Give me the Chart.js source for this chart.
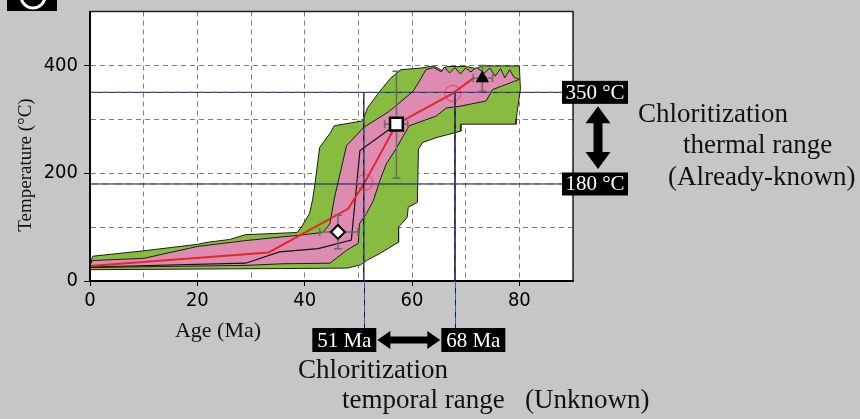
<!DOCTYPE html>
<html>
<head>
<meta charset="utf-8">
<script src="https://cdn.jsdelivr.net/npm/chart.js@4.4.1/dist/chart.umd.min.js"></script>
<style>
  html, body { margin: 0; padding: 0; background: #c6c6c6; }
  #wrap { width: 860px; height: 419px; position: relative; }
</style>
</head>
<body>
<div id="wrap"><canvas id="thermalChart" width="860" height="419"></canvas></div>
<script>
// Age (Ma) / Temperature (°C)
const X_TICKS = [0, 20, 40, 60, 80];
const Y_TICKS = [0, 200, 400];

// acceptable-fit envelope (green), traced round its outline
const ACC_AGE  = [0, 0, 0.5, 10, 15, 20, 22, 26, 29, 34, 38.6, 39.4, 40.9, 41.5, 42, 42.8, 44.8, 45.5, 50.8, 51.7, 54, 56, 57.9, 61.6, 64, 65.5, 66.5, 70, 72, 73, 80,
                  80.2, 79.4, 79.4, 69.1, 69.1, 64.5, 62, 61.2, 61, 59.3, 59.1, 57.5, 57.5, 54, 51.7, 50.4, 48, 35, 0];
const ACC_TEMP = [21, 30, 46, 56, 62, 68, 72, 77, 86, 88, 90, 100, 125, 152, 186, 248, 275, 288, 297, 321, 352, 376, 392, 395, 399, 391, 398, 398, 394, 399, 399,
                  356, 300, 291, 291, 278, 266, 257, 245, 146, 137, 118, 100, 72, 51, 39, 30, 24, 23, 21];

// good-fit envelope (pink)
const GOOD_AGE  = [0, 0, 0.5, 10, 20, 29, 39, 43.4, 44.7, 45.5, 47.8, 51, 55.8, 60.2, 61.4, 62.6, 64, 65.5, 66, 67, 68, 69, 70, 71, 72, 73.5, 74.5, 75.5, 76.5, 77.3, 78.2, 79, 80,
                   75, 73.8, 68.8, 66.4, 64.5, 59.5, 58.3, 57, 55.2, 54, 52.8, 51.5, 50.2, 50, 47.8, 44.7, 36, 29, 0];
const GOOD_TEMP = [25, 30, 38, 42, 64, 75, 85, 90, 106, 152, 251, 285, 315, 352, 371, 392, 396, 388, 397, 386, 396, 384, 395, 388, 396, 386, 395, 380, 394, 377, 392, 378, 374,
                   355, 334, 324, 321, 306, 288, 268, 245, 217, 186, 149, 125, 106, 70, 57, 33, 32, 29, 25];

// best-fit path (red) and mean path (black)
const BEST_AGE  = [0, 33.3, 48.1, 51.2, 57.1, 67.6, 71.4];
const BEST_TEMP = [28, 53, 134, 183, 291, 348, 376];
const MEAN_AGE  = [0, 29, 35.3, 42.5, 48.7, 50.3, 57.1];
const MEAN_TEMP = [26, 33, 54, 60, 76, 242, 291];

// constraints: centre and error ranges
const CON_AGE      = [46.2, 57.1, 73.1];
const CON_TEMP     = [91, 291, 376];
const CON_AGE_MIN  = [42.8, 54.9, 71.4];
const CON_AGE_MAX  = [49.9, 59.2, 75.0];
const CON_TEMP_MIN = [60, 191, 352];
const CON_TEMP_MAX = [122, 389, 400];

// chloritization range
const CHL_TEMP = [350, 180];
const CHL_TEMP_LABELS = ['350 °C', '180 °C'];
const CHL_AGE = [51, 68];
const CHL_AGE_LABELS = ['51 Ma', '68 Ma'];
// where the best-fit path crosses the range (red circles)
const CROSS_AGE  = [51.2, 67.6];
const CROSS_TEMP = [183, 348];

const SERIF = '"Liberation Serif", "Times New Roman", serif';
const NARROW = '"Liberation Sans Narrow", "DejaVu Sans Condensed", "Liberation Sans", sans-serif';
const MARKER_STYLES = ['rectRot', 'rect', 'triangle'];

const zip = (xs, ys) => xs.map((x, i) => ({ x: x, y: ys[i] }));

let datasets = [];

datasets.push({
    data: zip(ACC_AGE, ACC_TEMP), showLine: true, fill: 'shape',
    backgroundColor: '#88bc41', borderColor: '#1c1c1c', borderWidth: 1,
    pointRadius: 0, order: 20
});
datasets.push({
    data: zip(GOOD_AGE, GOOD_TEMP), showLine: true, fill: 'shape',
    backgroundColor: '#dd8bb1', borderColor: '#1c1c1c', borderWidth: 1,
    pointRadius: 0, order: 19
});
datasets.push({
    data: zip(MEAN_AGE, MEAN_TEMP), showLine: true,
    borderColor: '#111', borderWidth: 1.2, pointRadius: 0, order: 18
});
datasets.push({
    data: zip(BEST_AGE, BEST_TEMP), showLine: true,
    borderColor: '#e5262a', borderWidth: 2, pointRadius: 0, order: 17
});

// reference lines: black line with a blue dash on top
function refLine(points) {
    datasets.push({ data: points, showLine: true, borderColor: '#1c1c1c', borderWidth: 1, pointRadius: 0, order: 16 });
    datasets.push({ data: points, showLine: true, borderColor: '#3a5cc0', borderWidth: 1, borderDash: [7, 5], pointRadius: 0, order: 15 });
}
CHL_TEMP.forEach(t => refLine([{ x: 0, y: t }, { x: 90, y: t }]));
CHL_AGE.forEach(a => refLine([{ x: a, y: CHL_TEMP[0] }, { x: a, y: 0 }]));

datasets.push({
    data: zip(CROSS_AGE, CROSS_TEMP), showLine: false,
    pointStyle: 'circle', pointRadius: 8, backgroundColor: 'rgba(0,0,0,0)',
    borderColor: 'rgba(230,50,50,0.85)', borderWidth: 1, order: 14
});

// error bars, the caps are the end points
CON_AGE.forEach((a, i) => {
    datasets.push({
        data: [{ x: a, y: CON_TEMP_MIN[i] }, { x: a, y: CON_TEMP_MAX[i] }], showLine: true,
        borderColor: '#6a6a6a', borderWidth: 1.5, pointStyle: 'line', pointRadius: 4,
        pointBorderColor: '#6a6a6a', pointBorderWidth: 1.5, order: 5
    });
    datasets.push({
        data: [{ x: CON_AGE_MIN[i], y: CON_TEMP[i] }, { x: CON_AGE_MAX[i], y: CON_TEMP[i] }], showLine: true,
        borderColor: '#6a6a6a', borderWidth: 1.5, pointStyle: 'line', pointRadius: 4, pointRotation: 90,
        pointBorderColor: '#6a6a6a', pointBorderWidth: 1.5, order: 5
    });
});

datasets.push({
    data: zip(CON_AGE, CON_TEMP), showLine: false,
    pointStyle: MARKER_STYLES,
    pointRadius: [7, 9, 7],
    pointBackgroundColor: ['#fff', '#fff', '#000'],
    pointBorderColor: '#000',
    pointBorderWidth: [2, 2.5, 1],
    order: 1
});

function arrowHead(ctx, x, y, dx, dy, len, half) {
    // tip at (x,y), pointing along (dx,dy)
    ctx.beginPath();
    ctx.moveTo(x, y);
    ctx.lineTo(x - dx * len - dy * half, y - dy * len + dx * half);
    ctx.lineTo(x - dx * len + dy * half, y - dy * len - dx * half);
    ctx.closePath();
    ctx.fill();
}

function blackLabel(ctx, text, left, top, w, h) {
    ctx.fillStyle = '#000';
    ctx.fillRect(left, top, w, h);
    ctx.fillStyle = '#fff';
    ctx.font = '21px ' + SERIF;
    ctx.textAlign = 'center';
    ctx.textBaseline = 'middle';
    ctx.fillText(text, left + w / 2, top + h / 2 + 1);
}

const decorPlugin = {
    id: 'decor',
    beforeDraw(chart) {
        const { ctx, chartArea: a } = chart;
        ctx.save();
        ctx.fillStyle = '#fff';
        ctx.fillRect(a.left, a.top, a.right - a.left, a.bottom - a.top);
        ctx.restore();
    },
    afterDraw(chart) {
        const { ctx, chartArea: a, scales } = chart;
        const xs = scales.x, ys = scales.y;
        ctx.save();

        ctx.strokeStyle = '#222';
        ctx.lineWidth = 1.5;
        ctx.strokeRect(a.left, a.top, a.right - a.left, a.bottom - a.top);
        ctx.fillStyle = '#000';
        ctx.fillRect(a.left - 1, a.top, 2, a.bottom - a.top + 1);
        ctx.fillRect(a.left - 1, a.bottom - 1, a.right - a.left + 1, 2);

        // age lines continue below the axis down to their labels
        const boxTop = 328, boxH = 24;
        CHL_AGE.forEach(age => {
            const px = Math.round(xs.getPixelForValue(age)) + 0.5;
            ctx.beginPath(); ctx.moveTo(px, a.bottom); ctx.lineTo(px, boxTop);
            ctx.strokeStyle = '#1c1c1c'; ctx.lineWidth = 1; ctx.setLineDash([]); ctx.stroke();
            ctx.beginPath(); ctx.moveTo(px, a.bottom); ctx.lineTo(px, boxTop);
            ctx.strokeStyle = '#3a5cc0'; ctx.setLineDash([7, 5]); ctx.stroke();
        });
        ctx.setLineDash([]);

        // temperature labels at the right edge
        CHL_TEMP.forEach((t, i) => {
            const py = ys.getPixelForValue(t);
            blackLabel(ctx, CHL_TEMP_LABELS[i], a.right - 11, py - 11.5, 66, 23);
        });
        const y1 = ys.getPixelForValue(CHL_TEMP[0]) + 14;
        const y2 = ys.getPixelForValue(CHL_TEMP[1]) - 15;
        const ax = a.right + 25;
        ctx.fillStyle = '#000';
        ctx.fillRect(ax - 4.5, y1 + 14, 9, y2 - y1 - 28);
        arrowHead(ctx, ax, y1, 0, -1, 17, 12.5);
        arrowHead(ctx, ax, y2, 0, 1, 17, 12.5);

        // age labels below the axis
        const mid = (xs.getPixelForValue(CHL_AGE[0]) + xs.getPixelForValue(CHL_AGE[1])) / 2;
        blackLabel(ctx, CHL_AGE_LABELS[0], mid - 33 - 64, boxTop, 64, boxH);
        blackLabel(ctx, CHL_AGE_LABELS[1], mid + 32, boxTop, 64, boxH);
        const ay = boxTop + boxH / 2;
        ctx.fillStyle = '#000';
        ctx.fillRect(mid - 32 + 12, ay - 3.5, 63 - 24, 7);
        arrowHead(ctx, mid - 32, ay, -1, 0, 13, 9);
        arrowHead(ctx, mid + 31, ay, 1, 0, 13, 9);

        // captions
        ctx.fillStyle = '#111';
        ctx.textAlign = 'left';
        ctx.textBaseline = 'alphabetic';
        ctx.font = '27px ' + SERIF;
        ctx.fillText('Chloritization', 638, 122);
        ctx.fillText('thermal range', 683, 153);
        ctx.fillText('(Already-known)', 668, 185);
        ctx.fillText('Chloritization', 298, 378);
        ctx.fillText('temporal range   (Unknown)', 342, 408);

        // axis titles
        ctx.font = '22px ' + SERIF;
        ctx.textAlign = 'center';
        ctx.fillText('Age (Ma)', 218, 337);
        ctx.save();
        ctx.translate(31, 165);
        ctx.rotate(-Math.PI / 2);
        ctx.font = '19px ' + SERIF;
        ctx.fillText('Temperature (°C)', 0, 0);
        ctx.restore();

        // panel badge, top left
        ctx.fillStyle = '#000';
        ctx.fillRect(7, 0, 50, 11);
        ctx.beginPath();
        ctx.arc(33, -4, 12, 0, Math.PI * 2);
        ctx.strokeStyle = '#fff';
        ctx.lineWidth = 3;
        ctx.stroke();

        ctx.restore();
    }
};

const ctx = document.getElementById('thermalChart').getContext('2d');
new Chart(ctx, {
    type: 'scatter',
    data: { datasets: datasets },
    options: {
        responsive: false,
        animation: false,
        devicePixelRatio: 1,
        layout: { padding: { left: 0, top: 10, right: 287, bottom: 98 } },
        plugins: { legend: { display: false }, tooltip: { enabled: false } },
        scales: {
            x: {
                type: 'linear', min: 0, max: 90,
                afterFit: s => { s.height = 40; s.paddingLeft = 0; s.paddingRight = 0; },
                ticks: {
                    stepSize: 10, autoSkip: false, padding: 3, color: '#000',
                    font: { family: NARROW, size: 20 },
                    maxRotation: 0,
                    callback: v => X_TICKS.includes(v) ? String(v) : ''
                },
                grid: {
                    color: '#7c7c7c', lineWidth: 1,
                    tickLength: 5, tickBorderDash: [],
                    tickColor: c => X_TICKS.includes(c.tick.value) ? '#000' : 'rgba(0,0,0,0)'
                },
                border: { display: true, color: '#000', width: 2, dash: [5, 4] }
            },
            y: {
                type: 'linear', min: 0, max: 500,
                afterFit: s => { s.width = 90; s.paddingTop = 0; s.paddingBottom = 0; },
                ticks: {
                    stepSize: 100, autoSkip: false, padding: 6, color: '#000',
                    font: { family: NARROW, size: 20 },
                    callback: v => Y_TICKS.includes(v) ? String(v) : ''
                },
                grid: {
                    color: '#7c7c7c', lineWidth: 1,
                    tickLength: 6, tickBorderDash: [],
                    tickColor: c => Y_TICKS.includes(c.tick.value) ? '#000' : 'rgba(0,0,0,0)'
                },
                border: { display: true, color: '#000', width: 2, dash: [5, 4] }
            }
        }
    },
    plugins: [decorPlugin]
});
</script>
</body>
</html>
